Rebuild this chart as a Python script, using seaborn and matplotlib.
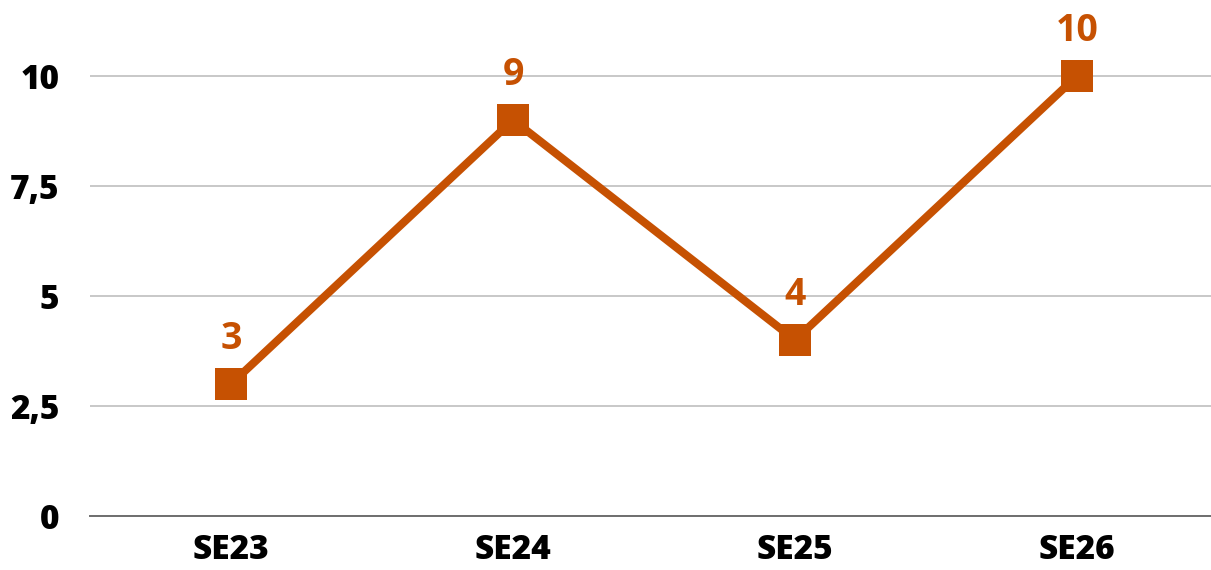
import pandas as pd
import matplotlib.pyplot as plt
import seaborn as sns

weeks = ["SE23", "SE24", "SE25", "SE26"]
values = [3, 9, 4, 10]
yticks = [0, 2.5, 5, 7.5, 10]

color = "#C65102"

sns.set_style("white")
plt.rcParams['font.family'] = ['Open Sans', 'DejaVu Sans']

df = pd.DataFrame({"week": weeks, "value": values})

fig = plt.figure(figsize=(12.11, 5.7), dpi=100)
ax = fig.add_axes([90/1211, 54/570, 1 - 90/1211, 1 - 54/570])

sns.lineplot(data=df, x="week", y="value", ax=ax, color=color, linewidth=5.8,
             marker="s", markersize=23, markeredgewidth=0, sort=False, zorder=3)

for i, v in enumerate(values):
    ax.annotate(str(v), (i, v), xytext=(0, 19), textcoords="offset points",
                ha="center", va="bottom", color=color, fontsize=27, fontweight="bold")

ax.set_xlim(-0.5, 3.475)
ax.set_ylim(0, 516/44)
ax.set_yticks(yticks)
ax.set_yticklabels([f"{t:g}".replace(".", ",") for t in yticks])
ax.yaxis.grid(True, color="#BFBFBF", linewidth=1.2)
ax.set_axisbelow(True)
for s in ["top", "right", "left"]:
    ax.spines[s].set_visible(False)
ax.spines["bottom"].set_color("#6E6E6E")
ax.spines["bottom"].set_linewidth(1.4)
ax.tick_params(axis="both", length=0, labelsize=24, labelcolor="black")
ax.tick_params(axis="x", pad=12)
ax.tick_params(axis="y", pad=22)
for lab in ax.get_xticklabels() + ax.get_yticklabels():
    lab.set_fontweight("heavy")
ax.set_xlabel("")
ax.set_ylabel("")

fig.savefig("out.png", dpi=100)
